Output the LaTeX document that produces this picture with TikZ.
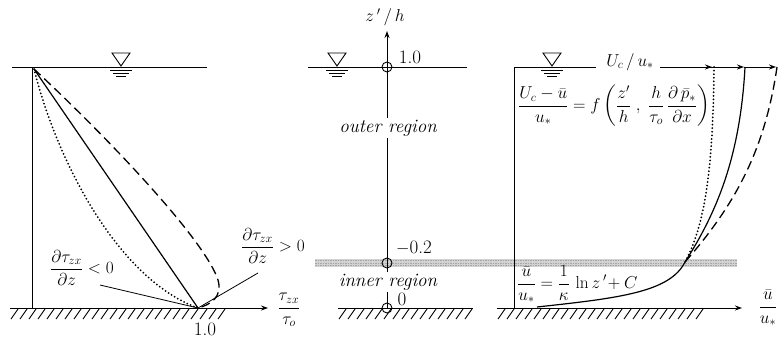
\documentclass[tikz,border=0pt]{standalone}
\usepackage{amsmath}
\usetikzlibrary{arrows.meta}
\begin{document}
\begin{tikzpicture}[x=1pt,y=-1pt,
  ln/.style={line width=1pt},
  prof/.style={line width=1.2pt},
  dotp/.style={line width=2pt, dash pattern=on 0pt off 3.6pt, line cap=round},
  dashp/.style={line width=1.3pt, dash pattern=on 9pt off 5pt},
  lab/.style={font=\fontsize{19}{21}\selectfont, inner sep=0pt},
  blab/.style={font=\fontsize{17.5}{20}\selectfont, inner sep=0pt},
  reg/.style={font=\fontsize{19}{21}\selectfont\itshape, fill=white, inner sep=1.5pt},
  ring/.style={circle, draw, line width=0.9pt, minimum size=10pt, inner sep=0pt},
  hatch/.style={line width=0.9pt},
  tip/.style={-{Stealth[length=7pt,width=5pt]}},
  water/.pic={
    \draw[line width=0.9pt] (-9,-14) -- (9,-14) -- (0,-1) -- cycle;
    \draw[line width=0.7pt] (-11,3) -- (11,3);
    \draw[line width=0.7pt] (-8,6) -- (8,6);
    \draw[line width=0.7pt] (-5,9) -- (5,9);
  }
]
\useasboundingbox (0,0) rectangle (779,340);

% ---------------- gray band (inner/outer limit)
\fill[gray!35] (315,259) rectangle (737,267);
\foreach \yy in {260.5,263,265.5}
  \draw[gray!70, line width=0.8pt, dash pattern=on 1.5pt off 1pt] (315,\yy) -- (737,\yy);

% ================= LEFT PANEL
\draw[ln] (12,67) -- (207,67);
\pic at (121,67) {water};
\coordinate (O) at (34,69);
\coordinate (B) at (198,308);
\draw[ln] (32,67) -- (32,308);
\draw[ln] (10,308) -- (225,308);
\foreach \x in {18,27,...,225} \draw[hatch] (\x,309) -- ++(-7,10);
% profiles
\draw[prof] (O) -- (B);
\draw[dotp] (O) .. controls (58,165) and (120,280) .. (B);
\draw[dashp] (O) .. controls (110,140) and (205,240) .. (218,280) .. controls (223,297) and (210,305) .. (B);
% axis arrow
\draw[ln,tip] (225,308) -- (268,308);
\node[blab] (tlab) at (289,310) {$\dfrac{\tau_{zx}}{\tau_o}$};
\node[lab] (one) at (205,329) {1.0};
% labels dtau/dz
\node[blab] (neg) at (82,268) {$\dfrac{\partial\tau_{zx}}{\partial z}<0$};
\node[blab] (pos) at (273,246) {$\dfrac{\partial\tau_{zx}}{\partial z}>0$};
\coordinate (negl) at (100,285);
\coordinate (posl) at (258,273);
\draw[line width=0.8pt] (negl) -- (B);
\draw[line width=0.8pt] (posl) -- (B);

% ================= CENTER PANEL
\draw[ln] (308,67) -- (467,67);
\pic at (337,67) {water};
\draw[ln] (338,308) -- (473,308);
\foreach \x in {346,355,...,473} \draw[hatch] (\x,309) -- ++(-7,10);
\coordinate (zb) at (387,308);
\coordinate (zt) at (387,31);
\draw[ln,tip] (zb) -- (zt);
\node[blab] (zh) at (385,17) {$z\,'\,/\,h$};
\node[ring] (c1) at (387,67) {};
\node[ring] (c2) at (387,263) {};
\node[ring] (c0) at (387,308) {};
\node[lab] (v1) at (410,57) {1.0};
\node[lab] (v2) at (414,248) {$-$0.2};
\node[lab] (v0) at (402,299) {0};
\node[reg] (outer) at (388,128) {outer region};
\node[reg] (inner) at (388,282) {inner region};

% ================= RIGHT PANEL
\pic at (552,67) {water};
\draw[ln] (514,67) -- (596,67);
\node[blab] (uc) at (630,62) {$U_c\,/\,u_*$};
\draw[ln] (660,67) -- (713,67);
\draw[ln,tip] (690,67) -- (712,67);
\draw[ln,tip] (713,67) -- (744,67);
\draw[ln,tip] (744,67) -- (776,67);
\draw[ln] (514,67) -- (514,308);
\draw[ln] (497,308) -- (705,308);
\foreach \x in {505,514,...,705} \draw[hatch] (\x,309) -- ++(-7,10);
\draw[ln,tip] (705,308) -- (742,308);
\node[blab] (ulab) at (768,308) {$\dfrac{\bar u}{u_*}$};
% profiles
\coordinate (M) at (685,262);
\coordinate (L) at (537,307);
\draw[prof] (M) .. controls (670,292) and (620,298) .. (L);
\draw[dotp] (714,67) .. controls (713,170) and (705,225) .. (M);
\draw[prof] (745,67) .. controls (740,160) and (715,215) .. (M);
\draw[dashp] (777,67) .. controls (765,150) and (735,205) .. (M);
% equations
\node[font=\fontsize{16.5}{19}\selectfont, inner sep=0pt, anchor=west] (eqo) at (518,106)
  {$\dfrac{U_c-\bar u}{u_*}=f\left(\dfrac{z'}{h}\;,\;\dfrac{h}{\tau_o}\,\dfrac{\partial\,\bar{p}_*}{\partial x}\right)$};
\node[font=\fontsize{17}{19}\selectfont, inner sep=0pt, anchor=west] (eqi) at (517,284)
  {$\dfrac{\bar u}{u_*}=\dfrac{1}{\kappa}\,\ln z\,'\!+C$};
\end{tikzpicture}
\end{document}
